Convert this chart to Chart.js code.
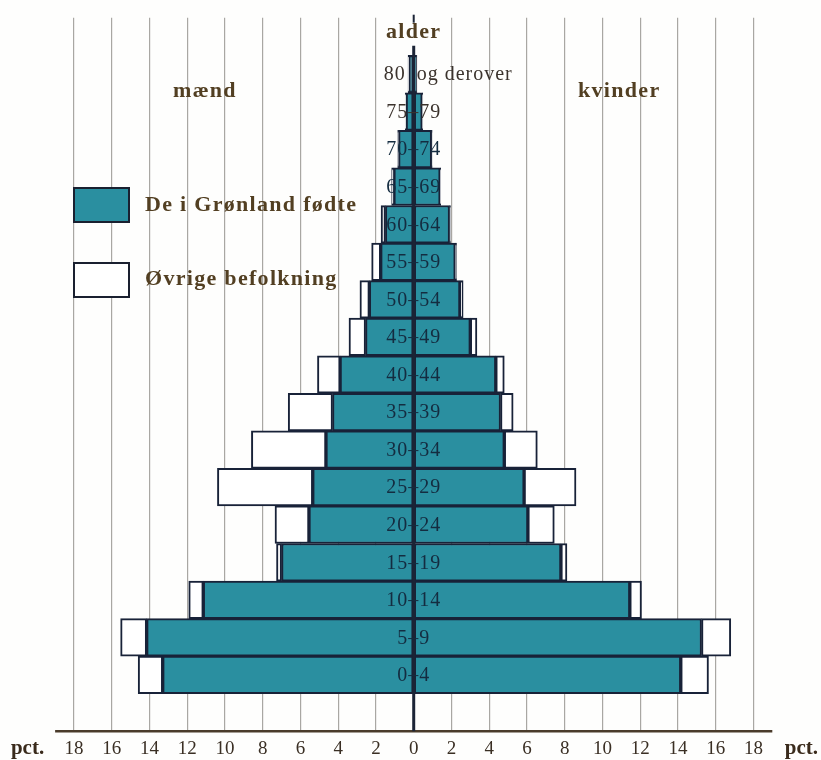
<!DOCTYPE html>
<html>
<head>
<meta charset="utf-8">
<script src="https://cdn.jsdelivr.net/npm/chart.js@4"></script>
<style>
html,body{margin:0;padding:0;background:#fefefd;}
#wrap{position:relative;width:821px;height:760px;overflow:hidden;}
#c{position:absolute;left:0;top:0;}
.lbl{position:absolute;font-family:"Liberation Serif","DejaVu Serif",serif;font-weight:bold;font-size:22px;line-height:22px;color:#523f22;letter-spacing:1.3px;white-space:nowrap;}
.box{position:absolute;width:53px;height:32px;border:2px solid #1a2030;}
</style>
</head>
<body>
<div id="wrap">
  <canvas id="c" width="821" height="760"></canvas>
  <div class="lbl" id="alder" style="left:386px;top:20px;">alder</div>
  <div class="lbl" style="left:173px;top:79px;">mænd</div>
  <div class="lbl" style="left:578px;top:79px;">kvinder</div>
  <div class="box" id="box1" style="left:73px;top:187px;"></div>
  <div class="lbl" style="left:145px;top:193px;">De i Grønland fødte</div>
  <div class="box" id="box2" style="left:73px;top:262px;"></div>
  <div class="lbl" style="left:145px;top:267px;">Øvrige befolkning</div>
</div>
<script>
// ---- data (percent) ----
const ageGroups = ['80 og derover','75–79','70–74','65–69','60–64','55–59','50–54','45–49','40–44','35–39','30–34','25–29','20–24','15–19','10–14','5–9','0–4'];
const maleGreenland   = [0.25,0.40,0.80,1.05,1.50,1.75,2.35,2.55,3.90,4.30,4.65,5.35,5.55,7.00,11.15,14.15,13.30];
const maleOther       = [0.05,0.05,0.05,0.12,0.23,0.48,0.50,0.88,1.20,2.35,3.95,5.05,1.80,0.27,0.77,1.38,1.30];
const femaleGreenland = [0.15,0.45,0.95,1.40,1.90,2.20,2.45,3.00,4.35,4.60,4.80,5.85,6.05,7.80,11.45,15.25,14.15];
const femaleOther     = [0.02,0.03,0.03,0.03,0.05,0.07,0.17,0.35,0.45,0.67,1.75,2.75,1.40,0.32,0.62,1.55,1.47];
const tickValues = [-18,-16,-14,-12,-10,-8,-6,-4,-2,0,2,4,6,8,10,12,14,16,18];
const pctTickValues = [-20.46, 20.54];
const seriesNames = ['De i Grønland fødte','Øvrige befolkning'];

const axisMin = -21.92, axisMax = 21.58, axisLineMin = -19, axisLineMax = 19;
const TEAL = '#2a8fa0', WHITE = '#ffffff', EDGE = '#182238';
document.getElementById('box1').style.background = TEAL;
document.getElementById('box2').style.background = WHITE;

const pad = a => [null, ...a, null];
const labels = ['', ...ageGroups, ''];

const overlay = {
  id: 'overlay',
  afterDatasetsDraw(chart) {
    const {ctx, chartArea, scales: {x, y}} = chart;
    const x0 = x.getPixelForValue(0);
    const pitch = y.getPixelForValue(1) - y.getPixelForValue(0);
    ctx.save();
    // bottom axis line
    ctx.strokeStyle = '#4a3b2b'; ctx.lineWidth = 2.5;
    ctx.beginPath();
    ctx.moveTo(x.getPixelForValue(axisLineMin), chartArea.bottom);
    ctx.lineTo(x.getPixelForValue(axisLineMax), chartArea.bottom);
    ctx.stroke();
    // centre line
    ctx.strokeStyle = '#1b2436'; ctx.lineWidth = 3;
    ctx.beginPath();
    ctx.moveTo(x0, y.getPixelForValue(1) - pitch * 0.75);
    ctx.lineTo(x0, chartArea.bottom);
    ctx.stroke();
    ctx.lineWidth = 2;
    ctx.beginPath();
    ctx.moveTo(x0, chartArea.top - 3);
    ctx.lineTo(x0, chartArea.top + 5);
    ctx.stroke();
    // age labels
    ctx.font = '20px "Liberation Serif", serif';
    ctx.letterSpacing = '1px';
    ctx.textBaseline = 'middle';
    ageGroups.forEach((g, i) => {
      const yy = y.getPixelForValue(i + 1) + 1;
      ctx.fillStyle = i < 2 ? '#3b332d' : '#142c40';
      const sp = g.indexOf(' ');
      if (sp > 0) {
        ctx.textAlign = 'right';
        ctx.fillText(g.slice(0, sp), x0 - 8, yy);
        ctx.textAlign = 'left';
        ctx.fillText(g.slice(sp + 1), x0 + 3, yy);
      } else {
        ctx.textAlign = 'center';
        ctx.fillText(g, x0, yy);
      }
    });
    ctx.restore();
  }
};

const common = {borderColor: EDGE, borderWidth: 2, borderSkipped: false, stack: 'p', barPercentage: 1, categoryPercentage: 1};

new Chart(document.getElementById('c'), {
  type: 'bar',
  data: {
    labels,
    datasets: [
      {...common, label: seriesNames[0] + ' (mænd)', data: pad(maleGreenland.map(v => -v)), backgroundColor: TEAL},
      {...common, label: seriesNames[1] + ' (mænd)', data: pad(maleOther.map(v => -v)), backgroundColor: WHITE},
      {...common, label: seriesNames[0] + ' (kvinder)', data: pad(femaleGreenland), backgroundColor: TEAL},
      {...common, label: seriesNames[1] + ' (kvinder)', data: pad(femaleOther), backgroundColor: WHITE}
    ]
  },
  options: {
    indexAxis: 'y',
    responsive: false,
    animation: false,
    devicePixelRatio: 1,
    layout: {padding: {top: 17.7, left: 0, right: 0, bottom: 0}},
    plugins: {legend: {display: false}, tooltip: {enabled: false}},
    scales: {
      x: {
        type: 'linear', stacked: true, min: axisMin, max: axisMax,
        afterBuildTicks(scale) {
          scale.ticks = [pctTickValues[0], ...tickValues, pctTickValues[1]].map(v => ({value: v}));
        },
        border: {display: false},
        grid: {
          color: c => {
            const v = c.tick ? c.tick.value : 99;
            return (Math.abs(v) <= 18 && v !== 0) ? '#a9a7a3' : 'rgba(0,0,0,0)';
          },
          lineWidth: 1.2,
          drawTicks: true, tickLength: 6.7, tickColor: 'rgba(0,0,0,0)'
        },
        ticks: {
          autoSkip: false, maxRotation: 0, padding: 0,
          callback: v => Math.abs(v) > 19 ? 'pct.' : String(Math.abs(v)),
          color: c => (c.tick && Math.abs(c.tick.value) > 19) ? '#3a2b1c' : '#3a2f24',
          font: c => (c.tick && Math.abs(c.tick.value) > 19)
            ? {family: '"Liberation Serif", serif', size: 21, weight: 'bold', lineHeight: '22px'}
            : {family: '"Liberation Serif", serif', size: 19, lineHeight: '22px'}
        }
      },
      y: {
        type: 'category', stacked: true, display: false, offset: true,
        grid: {display: false}
      }
    }
  },
  plugins: [overlay]
});
</script>
</body>
</html>
